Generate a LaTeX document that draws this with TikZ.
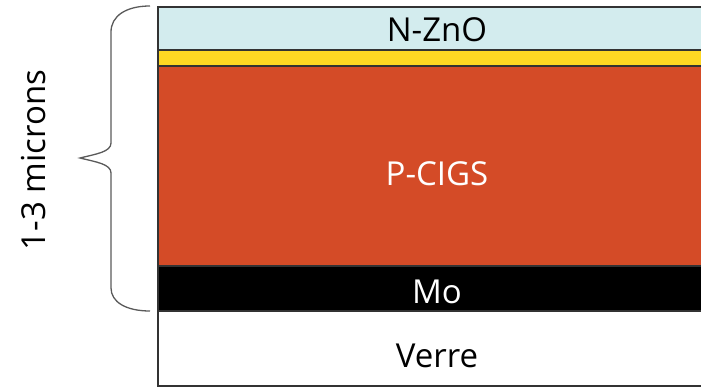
\documentclass[tikz,border=0pt]{standalone}
\usepackage{fontspec}
\setmainfont{Open Sans}
\usetikzlibrary{positioning}

\definecolor{znoblue}{HTML}{D3ECEE}
\definecolor{cdsyellow}{HTML}{FFD823}
\definecolor{cigsred}{HTML}{D44B27}
\definecolor{edgegray}{HTML}{333333}
\definecolor{bracegray}{HTML}{5A5A5A}

\begin{document}
\begin{tikzpicture}[x=1pt, y=-1pt, layer/.style={draw=edgegray, line width=1.5pt}, layer label/.style={font=\fontsize{33}{33}\selectfont, inner sep=0pt, anchor=base}]
    \useasboundingbox (0,0) rectangle (701,387);

    % stack of layers
    \filldraw[layer, fill=znoblue] (158,7) rectangle (705,50);
    \filldraw[layer, fill=cdsyellow] (158,50) rectangle (705,66);
    \filldraw[layer, fill=cigsred] (158,66) rectangle (705,266);
    \filldraw[layer, fill=black] (158,266) rectangle (705,311);
    \filldraw[layer, fill=white] (158,311) rectangle (705,386);

    \node[layer label] (zno) at (437,42) {N-ZnO};
    \node[layer label, text=white] (cigs) at (437,186) {P-CIGS};
    \node[layer label, text=white] (mo) at (437,303) {Mo};
    \node[layer label] (verre) at (437,367) {Verre};

    % brace
    \coordinate (braceTop) at (150,6);
    \coordinate (braceTip) at (80,158);
    \coordinate (braceBot) at (150,311);
    \draw[bracegray, line width=1.3pt] (braceTop) .. controls (126,6) and (111,16) .. (111,32)
        -- (111,143) .. controls (111,152) and (96,154) .. (braceTip)
        .. controls (96,162) and (111,164) .. (111,173)
        -- (111,288) .. controls (111,302) and (126,311) .. (braceBot);

    \node[layer label, rotate=90] (thick) at (45,160) {1-3 microns};
\end{tikzpicture}
\end{document}
